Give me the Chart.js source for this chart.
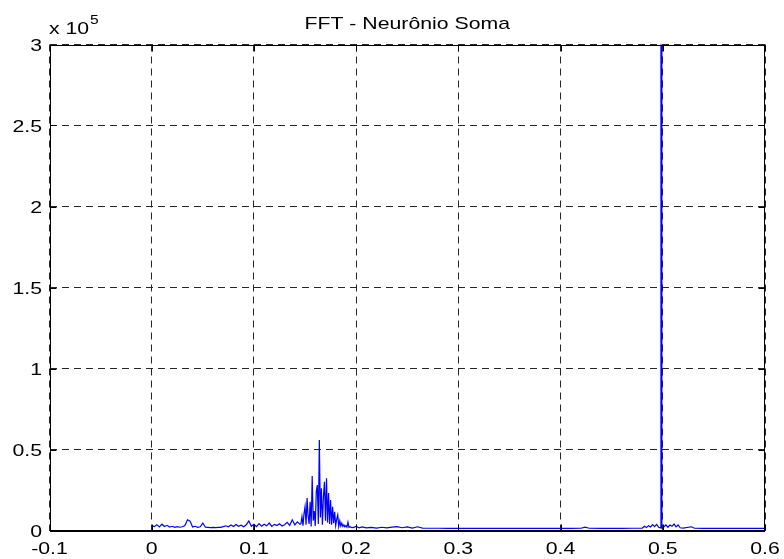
<!DOCTYPE html>
<html>
<head>
<meta charset="utf-8">
<script src="https://cdn.jsdelivr.net/npm/chart.js@4/dist/chart.umd.min.js"></script>
<style>html,body{margin:0;padding:0;background:#fff}canvas{display:block}</style>
</head>
<body>
<canvas id="c" width="784" height="559"></canvas>
<script>
const titleText = 'FFT - Neurônio Soma';
const xTicks = [-0.1, 0, 0.1, 0.2, 0.3, 0.4, 0.5, 0.6];
const xTickLabels = ['-0.1', '0', '0.1', '0.2', '0.3', '0.4', '0.5', '0.6'];
const yTicks = [0, 50000, 100000, 150000, 200000, 250000, 300000];
const yTickLabels = ['0', '0.5', '1', '1.5', '2', '2.5', '3'];
const yMultiplierText = 'x 10';
const yMultiplierExp = '5';

// frequency (normalized) samples
const freq = [
  0, 0.0025, 0.005, 0.0075, 0.01, 0.0125, 0.015, 0.0175, 0.02, 0.0225,
  0.025, 0.0275, 0.03, 0.0325, 0.035, 0.0375, 0.04, 0.0425, 0.045, 0.0475,
  0.05, 0.0525, 0.055, 0.0575, 0.06, 0.0625, 0.065, 0.0675, 0.07, 0.0725,
  0.075, 0.0775, 0.08, 0.0825, 0.085, 0.0875, 0.09, 0.0925, 0.095, 0.0975,
  0.1, 0.1025, 0.105, 0.1075, 0.11, 0.1125, 0.115, 0.1175, 0.12, 0.1225,
  0.125, 0.1275, 0.13, 0.1325, 0.135, 0.1375, 0.14, 0.1425, 0.145,
  0.146, 0.147, 0.148, 0.149, 0.150, 0.151, 0.152, 0.153, 0.154, 0.155,
  0.156, 0.157, 0.158, 0.159, 0.160, 0.161, 0.162, 0.163, 0.164, 0.165,
  0.166, 0.167, 0.168, 0.169, 0.170, 0.171, 0.172, 0.173, 0.174, 0.175,
  0.176, 0.177, 0.178, 0.179, 0.180, 0.181, 0.182, 0.183, 0.184, 0.185,
  0.186, 0.187, 0.188, 0.189, 0.190, 0.191, 0.192, 0.193, 0.194, 0.195,
  0.197, 0.2, 0.203, 0.206, 0.21, 0.215, 0.22, 0.225, 0.23, 0.235,
  0.24, 0.245, 0.25, 0.255, 0.26, 0.265, 0.27, 0.28, 0.29, 0.3,
  0.31, 0.32, 0.33, 0.34, 0.35, 0.36, 0.37, 0.38, 0.39, 0.4,
  0.41, 0.42, 0.424, 0.428, 0.44, 0.45, 0.46, 0.47,
  0.48, 0.482, 0.484, 0.486, 0.488, 0.49, 0.492, 0.494, 0.496, 0.4978,
  0.4982, 0.4987, 0.4991, 0.501, 0.503, 0.505, 0.507, 0.509, 0.511, 0.513,
  0.515, 0.517, 0.52, 0.528, 0.531, 0.54, 0.55, 0.56, 0.57, 0.58,
  0.59, 0.6
];

// FFT magnitude
const mag = [
  3000, 2400, 3600, 2200, 3900, 2500, 3200, 2100, 2600, 1900,
  2400, 2000, 2300, 3100, 6600, 5800, 2200, 2600, 2000, 2300,
  4600, 2000, 1900, 1800, 1900, 1800, 1900, 1900, 2400, 2900,
  2300, 3400, 2500, 3700, 2600, 3300, 2300, 3500, 5900, 2600,
  3800, 2400, 4300, 2700, 3900, 2900, 4600, 2500, 3800, 3100,
  4200, 2800, 3600, 5000, 3200, 6600, 3500, 5300, 3800,
  4200, 8500, 3000, 10500, 14700, 3500, 20000, 9000, 4000, 17800,
  2500, 33600, 6000, 12000, 2800, 24000, 28000, 4000, 55900, 8000,
  26000, 3500, 21000, 30100, 6000, 32200, 5000, 23100, 4000, 18800,
  3500, 14700, 4500, 11600, 3000, 7000, 9600, 2500, 6000, 2800,
  4500, 2500, 3500, 2200, 3000, 2000, 5200, 2000, 2300, 1900,
  1800, 2500, 1700, 2200, 1600, 1900, 1500, 2000, 1600, 2100,
  2400, 1700, 2200, 1500, 2300, 1500, 1400, 1400, 1350, 1350,
  1350, 1350, 1350, 1350, 1350, 1350, 1350, 1350, 1350, 1350,
  1350, 1400, 2100, 1400, 1350, 1350, 1350, 1400,
  1500, 2600, 1800, 3000, 2200, 3600, 2400, 3800, 2000, 1600,
  1500000, 1500000, 1600, 2200, 3500, 2000, 3400, 2600, 4000, 2200,
  3400, 1700, 1500, 2300, 1400, 1350, 1350, 1350, 1350, 1350,
  1350, 1350
];

const points = freq.map((f, i) => ({ x: f, y: mag[i] }));

const SX = 1.25;
const FONT = '"Liberation Sans", Arial, sans-serif';
function stext(ctx, txt, x, y, align, size) {
  ctx.save();
  ctx.font = size + 'px ' + FONT;
  ctx.fillStyle = '#000';
  ctx.textBaseline = 'alphabetic';
  ctx.textAlign = align;
  ctx.translate(x, y);
  ctx.scale(SX, 1);
  ctx.fillText(txt, 0, 0);
  ctx.restore();
}

const matlabAxes = {
  id: 'matlabAxes',
  afterDraw(chart) {
    const ctx = chart.ctx;
    const a = chart.chartArea;
    const xs = chart.scales.x, ys = chart.scales.y;
    const L = Math.round(a.left) + 0.5, R = Math.round(a.right) - 0.5;
    const T = Math.round(a.top) + 0.5, B = Math.round(a.bottom) - 0.5;
    ctx.save();
    ctx.strokeStyle = '#000';
    ctx.lineWidth = 1;
    ctx.setLineDash([]);
    ctx.strokeRect(L, T, R - L, B - T);
    ctx.beginPath();
    ctx.moveTo(L - 0.5, B + 1); ctx.lineTo(R + 0.5, B + 1);
    ctx.stroke();
    const tl = 6;
    ctx.beginPath();
    xTicks.forEach(v => {
      const px = Math.round(xs.getPixelForValue(v)) + 0.5;
      ctx.moveTo(px, B); ctx.lineTo(px, B - tl);
      ctx.moveTo(px, T); ctx.lineTo(px, T + tl);
    });
    yTicks.forEach(v => {
      const py = Math.round(ys.getPixelForValue(v)) + 0.5;
      ctx.moveTo(L, py); ctx.lineTo(L + tl, py);
      ctx.moveTo(R, py); ctx.lineTo(R - tl, py);
    });
    ctx.stroke();
    ctx.restore();

    xTicks.forEach((v, i) => {
      stext(ctx, xTickLabels[i], xs.getPixelForValue(v), a.bottom + 23, 'center', 17);
    });
    yTicks.forEach((v, i) => {
      stext(ctx, yTickLabels[i], a.left - 7.5, ys.getPixelForValue(v) + 6, 'right', 17);
    });
    stext(ctx, yMultiplierText, a.left - 0.5, a.top - 10.3, 'left', 17);
    stext(ctx, yMultiplierExp, a.left + 40.5, a.top - 20.5, 'left', 12.5);
    stext(ctx, titleText, (a.left + a.right) / 2, 29, 'center', 17);
  }
};

new Chart(document.getElementById('c'), {
  type: 'line',
  data: {
    datasets: [{
      data: points,
      borderColor: '#0000ff',
      borderWidth: 1.2,
      pointRadius: 0,
      fill: false,
      tension: 0
    }]
  },
  options: {
    responsive: false,
    devicePixelRatio: 1,
    animation: false,
    events: [],
    layout: { padding: { left: 49.5, right: 19, top: 44.5, bottom: 28.5 } },
    plugins: { legend: { display: false }, tooltip: { enabled: false }, title: { display: false } },
    scales: {
      x: {
        type: 'linear', min: -0.1, max: 0.6, z: 1,
        afterBuildTicks: s => { s.ticks = xTicks.map(v => ({ value: v })); },
        afterFit: s => { s.height = 0; },
        ticks: { display: false },
        grid: { color: '#262626', lineWidth: 1, drawTicks: false },
        border: { display: false, dash: [7, 5] }
      },
      y: {
        type: 'linear', min: 0, max: 300000, z: 1,
        afterBuildTicks: s => { s.ticks = yTicks.map(v => ({ value: v })); },
        afterFit: s => { s.width = 0; },
        ticks: { display: false },
        grid: { color: '#262626', lineWidth: 1, drawTicks: false },
        border: { display: false, dash: [7, 5] }
      }
    }
  },
  plugins: [matlabAxes]
});
</script>
</body>
</html>
